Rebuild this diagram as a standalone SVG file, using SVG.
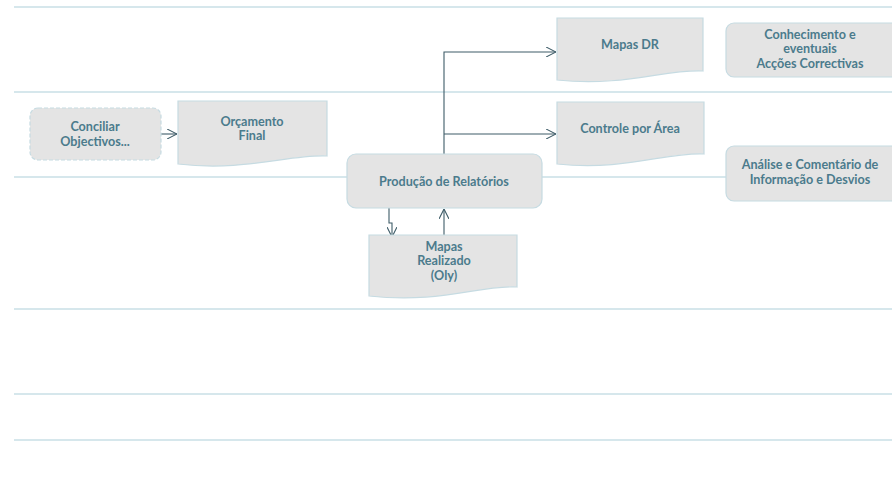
<svg xmlns="http://www.w3.org/2000/svg" width="892" height="482" viewBox="0 0 892 482">
<defs>
<style>
.lane{stroke:#c9dfe6;stroke-width:1.5;fill:none}
.box{fill:#e4e4e4;stroke:#c6dbe2;stroke-width:1.2}
.dash{stroke-dasharray:4 2}
.t{font-family:Lato,"Open Sans","Liberation Sans",sans-serif;font-weight:bold;font-size:12.6px;fill:#4b7b8c;text-anchor:middle}
.c{fill:none;stroke:#3e5c68;stroke-width:1.1}
</style>
<marker id="ah" viewBox="0 0 10 10" refX="10" refY="5" markerWidth="10" markerHeight="10" markerUnits="userSpaceOnUse" orient="auto">
<path d="M0,0 L10,5 L0,10" fill="none" stroke="#3e5c68" stroke-width="1.1"/>
</marker>
</defs>
<rect width="892" height="482" fill="#fff"/>
<g id="lanes">
<line class="lane" x1="14" y1="7" x2="892" y2="7"/>
<line class="lane" x1="14" y1="92" x2="892" y2="92"/>
<line class="lane" x1="14" y1="177" x2="892" y2="177"/>
<line class="lane" x1="14" y1="309" x2="892" y2="309"/>
<line class="lane" x1="14" y1="394" x2="892" y2="394"/>
<line class="lane" x1="14" y1="440" x2="892" y2="440"/>
</g>
<g id="connectors">
<path class="c" d="M161,134 H177" marker-end="url(#ah)"/>
<path class="c" d="M444,154 V52 H556" marker-end="url(#ah)"/>
<path class="c" d="M444,134 H556" marker-end="url(#ah)"/>
<path class="c" d="M389,208 V223 H392 V237" marker-end="url(#ah)"/>
<path class="c" d="M444,235 V209" marker-end="url(#ah)"/>
</g>
<g id="conciliar">
<rect class="box dash" x="30" y="108" width="131" height="52" rx="8"/>
<text class="t" x="95" y="131">Conciliar</text>
<text class="t" x="95" y="146">Objectivos...</text>
</g>
<g id="orcamento">
<path class="box" d="M178,101 H327 V156 C290,154 245,172 178,164 Z"/>
<text class="t" x="252" y="126">Orçamento</text>
<text class="t" x="252" y="140">Final</text>
</g>
<g id="producao">
<rect class="box" x="347" y="154" width="195" height="54" rx="9"/>
<text class="t" x="444" y="186">Produção de Relatórios</text>
</g>
<g id="mapas-realizado">
<path class="box" d="M369,235 H517 V287 C480,285 440,304 369,296 Z"/>
<text class="t" x="444" y="251">Mapas</text>
<text class="t" x="444" y="265">Realizado</text>
<text class="t" x="444" y="280">(Oly)</text>
</g>
<g id="mapas-dr">
<path class="box" d="M557,18 H703 V71 C665,69 625,87 557,80 Z"/>
<text class="t" x="630" y="49">Mapas DR</text>
</g>
<g id="controle">
<path class="box" d="M557,102 H704 V154 C666,152 626,171 557,164 Z"/>
<text class="t" x="630" y="133">Controle por Área</text>
</g>
<g id="conhecimento">
<rect class="box" x="726" y="23" width="175" height="54" rx="8"/>
<text class="t" x="810" y="39">Conhecimento e</text>
<text class="t" x="810" y="53">eventuais</text>
<text class="t" x="810" y="68">Acções Correctivas</text>
</g>
<g id="analise">
<rect class="box" x="726" y="146" width="175" height="55" rx="8"/>
<text class="t" x="810" y="169">Análise e Comentário de</text>
<text class="t" x="810" y="184">Informação e Desvios</text>
</g>
</svg>
